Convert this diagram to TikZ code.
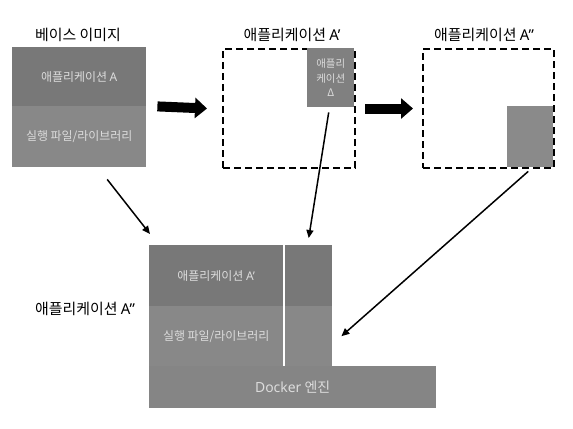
\documentclass[tikz,border=0pt]{standalone}
\usepackage{fontspec}
\setmainfont{Noto Sans CJK KR}
\newfontfamily\lat{Noto Sans}
\usetikzlibrary{arrows.meta}
\definecolor{gdark}{HTML}{787878}
\definecolor{glight}{HTML}{888888}
\definecolor{gdock}{HTML}{858585}
\definecolor{gdelta}{HTML}{808080}
\definecolor{gbox}{HTML}{8A8A8A}
\definecolor{txtlight}{HTML}{DCDCDC}
\tikzset{
  blk/.style={draw=none, inner sep=0pt, anchor=north west, text=txtlight, font=\fontsize{12}{14}\selectfont, align=center},
  dashbox/.style={draw=black, line width=2bp, dash pattern=on 7bp off 4bp, inner sep=0pt, anchor=north west},
  title/.style={font=\fontsize{15}{17}\selectfont, text=black, inner sep=0pt},
  fat/.style={line width=10bp, -{Triangle[length=12bp,width=20bp]}},
  conn/.style={line width=1.5bp, -{Triangle[length=8bp,width=7bp]}}
}
\begin{document}
\begin{tikzpicture}[x=1bp,y=-1bp]
\useasboundingbox (0,0) rectangle (573,428);
% base image
\node[blk, fill=gdark, minimum width=134bp, minimum height=59bp] (basetop) at (12,47) {애플리케이션 {\lat A}};
\node[blk, fill=glight, minimum width=134bp, minimum height=61bp] (basebot) at (12,106) {실행 파일/라이브러리};
\node[title] (t1) at (78,35) {베이스 이미지};
% middle
\node[dashbox, minimum width=132bp, minimum height=119bp] (mid) at (222,48) {};
\node[blk, fill=gdelta, minimum width=47bp, minimum height=59bp, font=\fontsize{10.5}{15}\selectfont] (delta) at (307,48) {애플리\\케이션\\Δ};
\node[title] (t2) at (292,35) {애플리케이션 {\lat A’}};
% right
\node[dashbox, minimum width=131bp, minimum height=119bp] (right) at (422,48) {};
\node[blk, fill=gbox, minimum width=46bp, minimum height=61bp] (rbox) at (507,106) {};
\node[title] (t3) at (484,35) {애플리케이션 {\lat A”}};
% fat arrows
\draw[fat] ([xshift=11bp]basetop.south east) -- ([xshift=-15bp]mid.west);
\draw[fat] ([xshift=9bp]mid.east) -- ([xshift=-9bp]right.west);
% bottom stack
\node[blk, fill=gdark, minimum width=134bp, minimum height=61bp] (app) at (149,245) {애플리케이션 {\lat A’}};
\node[blk, fill=glight, minimum width=134bp, minimum height=60bp] (lib) at (149,306) {실행 파일/라이브러리};
\node[blk, fill=gdark, minimum width=47bp, minimum height=61bp] (coltop) at (285,245) {};
\node[blk, fill=glight, minimum width=47bp, minimum height=60bp] (colbot) at (285,306) {};
\node[blk, fill=gdock, minimum width=287bp, minimum height=42bp, font=\fontsize{14}{16}\selectfont] (docker) at (149,366) {{\lat Docker} 엔진};
\node[title] (t4) at (85,309) {애플리케이션 {\lat A”}};
% connectors
\draw[conn] ([shift={(28,12)}]basebot.south) -- ([shift={(1,-11)}]app.north west);
\draw[conn] ([shift={(-2,5)}]delta.south) -- ([shift={(0,-7)}]coltop.north);
\draw[conn] ([shift={(-2,4)}]rbox.south) -- ([shift={(9,0)}]colbot.east);
\end{tikzpicture}
\end{document}
